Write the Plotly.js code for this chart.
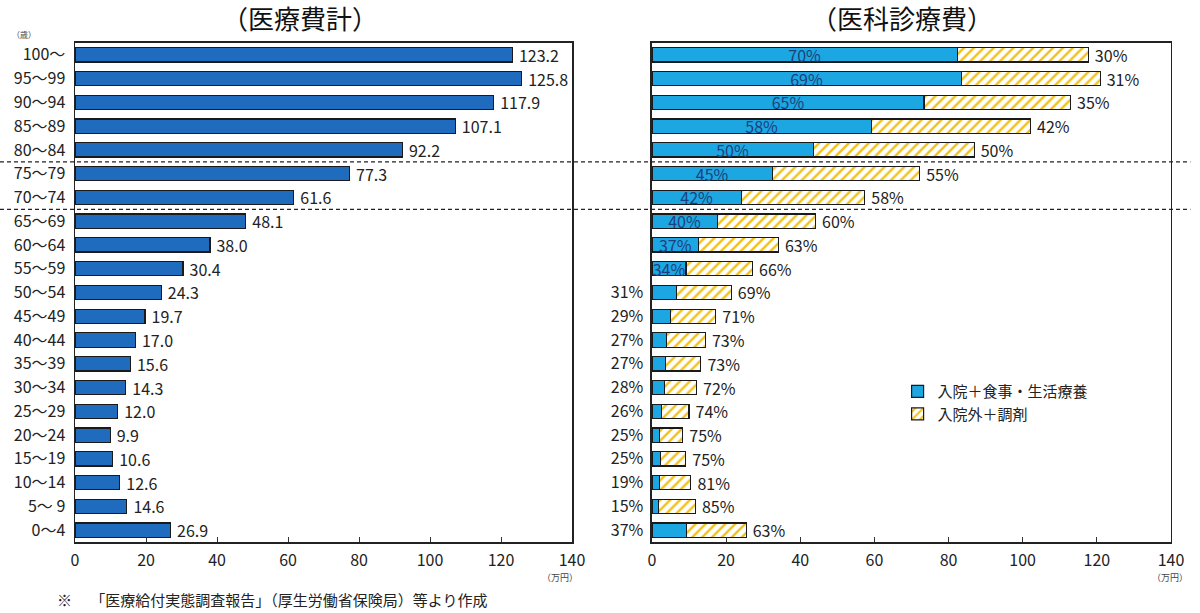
<!DOCTYPE html>
<html>
<head>
<meta charset="utf-8">
<script src="https://cdn.plot.ly/plotly-3.0.1.min.js"></script>
<style>
  html, body { margin: 0; padding: 0; background: #fff; }
  #graphique { width: 1200px; height: 613px; }
</style>
</head>
<body>
<div id="graphique"></div>
<script>
// tranches d'âge, du bas vers le haut
var ages = ['0～4', '5～ 9', '10～14', '15～19', '20～24', '25～29', '30～34', '35～39',
            '40～44', '45～49', '50～54', '55～59', '60～64', '65～69', '70～74', '75～79',
            '80～84', '85～89', '90～94', '95～99', '100～'];

// 医療費計 (万円)
var iryohiKei = [26.9, 14.6, 12.6, 10.6, 9.9, 12.0, 14.3, 15.6, 17.0, 19.7, 24.3,
                 30.4, 38.0, 48.1, 61.6, 77.3, 92.2, 107.1, 117.9, 125.8, 123.2];

// 医科診療費 : 入院＋食事・生活療養 (万円)
var nyuin = [9.4, 1.8, 2.0, 2.3, 2.1, 2.6, 3.4, 3.6, 3.9, 5.0, 6.6,
             9.2, 12.6, 17.6, 24.1, 32.5, 43.5, 59.2, 73.4, 83.4, 82.4];
// 医科診療費 : 入院外＋調剤 (万円)
var nyuingai = [16.0, 9.9, 8.5, 6.8, 6.2, 7.4, 8.6, 9.6, 10.5, 12.2, 14.8,
                17.9, 21.5, 26.5, 33.3, 39.7, 43.4, 42.9, 39.5, 37.5, 35.3];

// parts affichées (%)
var partNyuin = [37, 15, 19, 25, 25, 26, 28, 27, 27, 29, 31,
                 34, 37, 40, 42, 45, 50, 58, 65, 69, 70];
var partNyuingai = [63, 85, 81, 75, 75, 74, 72, 73, 73, 71, 69,
                    66, 63, 60, 58, 55, 50, 42, 35, 31, 30];

// à partir de cet indice le % bleu est écrit dans la barre, avant à gauche de l'axe
var indiceDansBarre = 11;

var xTicks = [0, 20, 40, 60, 80, 100, 120, 140];

var police = '"Noto Sans CJK JP", "Noto Sans", sans-serif';

var texteBleuDedans = partNyuin.map(function(p, i) { return i >= indiceDansBarre ? p + '%' : ''; });
var texteBleuAxe = partNyuin.map(function(p, i) { return i < indiceDansBarre ? p + '%' : ''; });

var traceTotal = {
    type: 'bar', orientation: 'h',
    x: iryohiKei, y: ages,
    xaxis: 'x', yaxis: 'y',
    marker: { color: '#1F6CBE', line: { color: '#1a1a1a', width: 1.2 } },
    text: iryohiKei.map(function(v) { return ' ' + v.toFixed(1); }),
    textposition: 'outside',
    textfont: { family: police, size: 16, color: '#222' },
    constraintext: 'none',
    cliponaxis: false,
    showlegend: false
};

var traceNyuin = {
    type: 'bar', orientation: 'h',
    x: nyuin, y: ages,
    xaxis: 'x2', yaxis: 'y2',
    name: '入院＋食事・生活療養',
    legendgroup: 'a',
    marker: { color: '#1CA7E3', line: { color: '#1a1a1a', width: 1.2 } },
    text: texteBleuDedans,
    textposition: 'inside',
    insidetextanchor: 'middle',
    textfont: { family: police, size: 16, color: '#1F3F7A' },
    constraintext: 'none'
};

var traceNyuingai = {
    type: 'bar', orientation: 'h',
    x: nyuingai, y: ages,
    xaxis: 'x2', yaxis: 'y2',
    name: '入院外＋調剤',
    legendgroup: 'b',
    marker: {
        color: '#ffffff',
        line: { color: '#1a1a1a', width: 1.2 },
        pattern: { shape: '/', fgcolor: '#F2C21B', bgcolor: '#ffffff', size: 7, solidity: 0.35 }
    },
    text: partNyuingai.map(function(p) { return ' ' + p + '%'; }),
    textposition: 'outside',
    textfont: { family: police, size: 16, color: '#222' },
    constraintext: 'none',
    cliponaxis: false
};

var axeX = {
    range: [0, 140],
    tickvals: xTicks,
    ticks: 'inside', ticklen: 5, tickcolor: '#333',
    showgrid: false, zeroline: false,
    showline: true, linecolor: '#222', linewidth: 1.5, mirror: true,
    tickfont: { family: police, size: 16, color: '#222' },
    ticklabelstandoff: 3,
    fixedrange: true
};

var layout = {
    width: 1200, height: 613,
    margin: { l: 0, r: 0, t: 0, b: 0 },
    paper_bgcolor: '#ffffff', plot_bgcolor: '#ffffff',
    barmode: 'stack',
    bargap: 0.4,
    font: { family: police, color: '#222' },
    xaxis: Object.assign({}, axeX, { domain: [0.0625, 0.4767], anchor: 'y' }),
    xaxis2: Object.assign({}, axeX, { domain: [0.5433, 0.9758], anchor: 'y2' }),
    yaxis: {
        domain: [0.1158, 0.9299], anchor: 'x',
        type: 'category', categoryarray: ages,
        ticks: '', showgrid: false, zeroline: false,
        showline: true, linecolor: '#222', linewidth: 1.5, mirror: true,
        tickfont: { family: police, size: 16, color: '#222' },
        ticklabelstandoff: 5,
        fixedrange: true
    },
    yaxis2: {
        domain: [0.1158, 0.9299], anchor: 'x2',
        type: 'category', categoryarray: ages,
        tickmode: 'array', tickvals: ages, ticktext: texteBleuAxe,
        ticks: '', showgrid: false, zeroline: false,
        showline: true, linecolor: '#222', linewidth: 1.5, mirror: true,
        tickfont: { family: police, size: 16, color: '#222' },
        ticklabelstandoff: 4,
        fixedrange: true
    },
    legend: {
        x: 0.748, y: 0.388, xanchor: 'left', yanchor: 'top',
        traceorder: 'normal',
        bgcolor: 'rgba(0,0,0,0)',
        font: { family: police, size: 15, color: '#222' },
        itemwidth: 30, tracegroupgap: 6
    },
    shapes: [
        { type: 'line', xref: 'paper', yref: 'y', x0: -0.07, x1: 0.992, y0: 15.5, y1: 15.5,
          line: { color: '#222', width: 1.2, dash: '4px,3px' } },
        { type: 'line', xref: 'paper', yref: 'y', x0: -0.07, x1: 0.992, y0: 13.5, y1: 13.5,
          line: { color: '#222', width: 1.2, dash: '4px,3px' } }
    ],
    annotations: [
        { text: '（医療費計）', xref: 'paper', yref: 'paper', x: 0.25, y: 0.971,
          xanchor: 'center', yanchor: 'middle',
          showarrow: false, font: { family: police, size: 26, color: '#111' } },
        { text: '（医科診療費）', xref: 'paper', yref: 'paper', x: 0.752, y: 0.971,
          xanchor: 'center', yanchor: 'middle',
          showarrow: false, font: { family: police, size: 26, color: '#111' } },
        { text: '（歳）', xref: 'paper', yref: 'paper', x: 0.02, y: 0.944,
          xanchor: 'center', yanchor: 'middle',
          showarrow: false, font: { family: police, size: 8, color: '#444' } },
        { text: '（万円）', xref: 'paper', yref: 'paper', x: 0.467, y: 0.058,
          xanchor: 'center', yanchor: 'middle',
          showarrow: false, font: { family: police, size: 9, color: '#444' } },
        { text: '（万円）', xref: 'paper', yref: 'paper', x: 0.975, y: 0.058,
          xanchor: 'center', yanchor: 'middle',
          showarrow: false, font: { family: police, size: 9, color: '#444' } },
        { text: '※　 「医療給付実態調査報告」（厚生労働省保険局）等より作成', xref: 'paper', yref: 'paper',
          x: 0.046, y: 0.022, xanchor: 'left', yanchor: 'middle', showarrow: false,
          font: { family: police, size: 15, color: '#222' } }
    ]
};

Plotly.newPlot('graphique', [traceTotal, traceNyuin, traceNyuingai], layout, { staticPlot: true });
</script>
</body>
</html>
